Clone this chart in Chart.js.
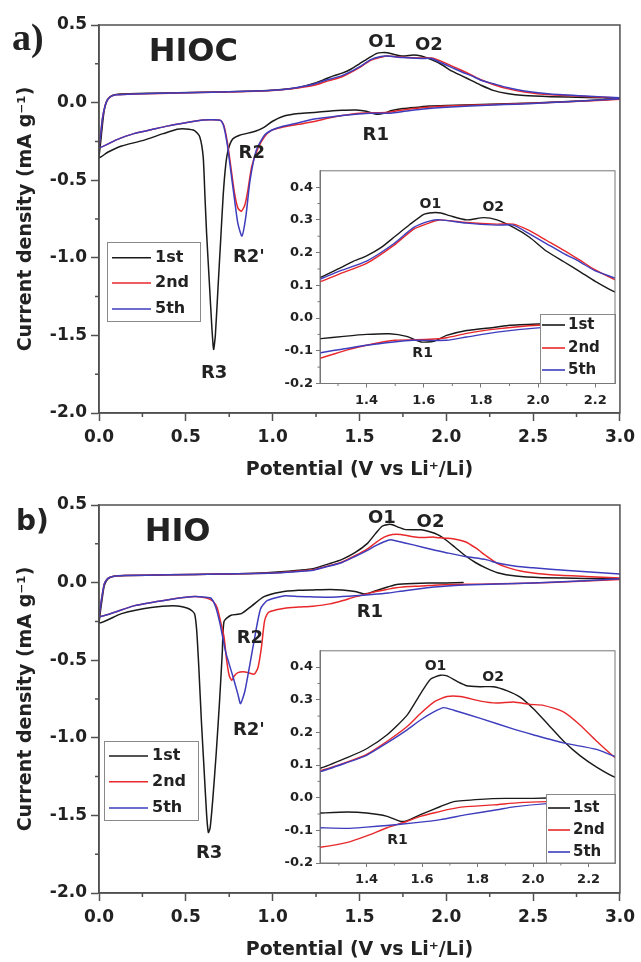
<!DOCTYPE html>
<html>
<head>
<meta charset="utf-8">
<script src="https://cdn.jsdelivr.net/npm/chart.js@4.4.0/dist/chart.umd.min.js"></script>
<style>
  body { margin: 0; background: #fff; width: 641px; height: 962px; position: relative; overflow: hidden; }
  canvas { position: absolute; }
</style>
</head>
<body>
<canvas id="mainA" width="641" height="480" style="left:0px;top:0px"></canvas>
<canvas id="insetA" width="345" height="252" style="left:280px;top:160px"></canvas>
<canvas id="mainB" width="641" height="480" style="left:0px;top:480px"></canvas>
<canvas id="insetB" width="345" height="252" style="left:280px;top:640px"></canvas>
<script>
// ---- data : [potential V, current mA/g], cathodic sweep first, then anodic ----

// HIOC
const hioc1st = [
  [3.00, 0.025], [2.80, 0.012], [2.60, 0.002], [2.40, -0.006], [2.20, -0.012], [2.00, -0.018], [1.90, -0.022],
  [1.85, -0.028], [1.75, -0.038], [1.68, -0.053], [1.635, -0.071], [1.59, -0.073], [1.54, -0.056], [1.48, -0.048],
  [1.40, -0.050], [1.32, -0.056], [1.24, -0.063], [1.15, -0.070], [1.07, -0.085], [1.00, -0.12], [0.95, -0.16],
  [0.90, -0.185], [0.81, -0.21], [0.77, -0.235], [0.745, -0.30], [0.73, -0.40], [0.715, -0.60], [0.70, -0.90],
  [0.685, -1.20], [0.67, -1.50], [0.66, -1.59], [0.65, -1.45], [0.635, -1.15], [0.62, -0.85], [0.61, -0.60],
  [0.60, -0.35], [0.58, -0.22], [0.55, -0.18], [0.50, -0.17], [0.45, -0.172], [0.37, -0.20], [0.25, -0.245],
  [0.13, -0.28], [0.05, -0.32], [0.00, -0.355],
  [0.01, -0.25], [0.02, -0.14], [0.03, -0.05], [0.045, 0.01], [0.06, 0.035], [0.08, 0.048], [0.12, 0.055],
  [0.30, 0.060], [0.60, 0.066], [0.90, 0.075], [1.05, 0.085], [1.15, 0.098], [1.24, 0.125], [1.30, 0.150],
  [1.35, 0.172], [1.40, 0.190], [1.45, 0.215], [1.50, 0.250], [1.55, 0.285], [1.60, 0.317], [1.63, 0.322],
  [1.66, 0.321], [1.69, 0.313], [1.75, 0.300], [1.81, 0.307], [1.856, 0.300], [1.914, 0.277], [1.97, 0.247],
  [2.03, 0.204], [2.09, 0.172], [2.146, 0.142], [2.20, 0.112], [2.27, 0.079], [2.35, 0.058], [2.45, 0.045],
  [2.60, 0.038], [2.80, 0.033], [3.00, 0.030]
];
const hioc2nd = [
  [3.00, 0.022], [2.80, 0.010], [2.60, 0.000], [2.40, -0.008], [2.27, -0.013], [2.00, -0.022], [1.856, -0.033],
  [1.75, -0.047], [1.68, -0.060], [1.62, -0.065], [1.50, -0.068], [1.40, -0.083], [1.33, -0.098], [1.24, -0.122],
  [1.15, -0.14], [1.05, -0.16], [0.99, -0.18], [0.953, -0.22], [0.917, -0.29], [0.88, -0.41], [0.855, -0.58],
  [0.84, -0.66], [0.82, -0.70], [0.80, -0.68], [0.78, -0.58], [0.76, -0.42], [0.74, -0.26], [0.72, -0.15],
  [0.70, -0.115], [0.65, -0.11], [0.60, -0.112], [0.50, -0.13], [0.40, -0.15], [0.30, -0.175], [0.20, -0.20],
  [0.10, -0.24], [0.00, -0.29],
  [0.01, -0.20], [0.02, -0.10], [0.035, -0.02], [0.05, 0.02], [0.07, 0.04], [0.10, 0.05], [0.20, 0.055],
  [0.50, 0.063], [0.80, 0.070], [1.00, 0.078], [1.10, 0.087], [1.18, 0.100], [1.24, 0.112], [1.30, 0.133],
  [1.40, 0.167], [1.495, 0.222], [1.565, 0.272], [1.623, 0.292], [1.658, 0.300], [1.75, 0.292], [1.856, 0.287],
  [1.914, 0.287], [1.97, 0.267], [2.03, 0.237], [2.09, 0.207], [2.146, 0.177], [2.20, 0.147], [2.27, 0.117],
  [2.35, 0.090], [2.45, 0.068], [2.60, 0.050], [2.80, 0.040], [3.00, 0.030]
];
const hioc5th = [
  [3.00, 0.025], [2.80, 0.012], [2.60, 0.000], [2.40, -0.010], [2.27, -0.016], [2.00, -0.030], [1.856, -0.043],
  [1.75, -0.058], [1.68, -0.068], [1.56, -0.068], [1.495, -0.073], [1.40, -0.083], [1.33, -0.093], [1.24, -0.106],
  [1.15, -0.13], [1.05, -0.155], [1.00, -0.175], [0.953, -0.21], [0.905, -0.31], [0.87, -0.50], [0.845, -0.74],
  [0.823, -0.86], [0.80, -0.78], [0.78, -0.62], [0.76, -0.45], [0.74, -0.28], [0.72, -0.16], [0.70, -0.115],
  [0.65, -0.11], [0.60, -0.112], [0.50, -0.13], [0.40, -0.15], [0.30, -0.175], [0.20, -0.20], [0.10, -0.24],
  [0.00, -0.29],
  [0.01, -0.20], [0.02, -0.10], [0.035, -0.02], [0.05, 0.02], [0.07, 0.04], [0.10, 0.05], [0.20, 0.056],
  [0.50, 0.064], [0.80, 0.071], [1.00, 0.080], [1.10, 0.090], [1.18, 0.105], [1.24, 0.120], [1.30, 0.142],
  [1.40, 0.174], [1.495, 0.227], [1.565, 0.277], [1.623, 0.297], [1.658, 0.300], [1.75, 0.290], [1.856, 0.284],
  [1.914, 0.284], [1.97, 0.257], [2.03, 0.227], [2.09, 0.197], [2.146, 0.172], [2.20, 0.144], [2.27, 0.122],
  [2.35, 0.097], [2.45, 0.075], [2.60, 0.055], [2.80, 0.042], [3.00, 0.032]
];

// HIO
const hio1st = [
  [2.10, 0.000], [2.00, -0.002], [1.90, -0.002], [1.81, -0.005], [1.714, -0.012], [1.666, -0.027], [1.594, -0.052],
  [1.546, -0.070], [1.52, -0.072], [1.474, -0.057], [1.40, -0.047], [1.33, -0.044], [1.232, -0.047], [1.15, -0.050],
  [1.05, -0.060], [0.95, -0.09], [0.88, -0.15], [0.82, -0.20], [0.76, -0.21], [0.72, -0.25], [0.71, -0.45],
  [0.695, -0.75], [0.675, -1.10], [0.655, -1.40], [0.64, -1.58], [0.63, -1.61], [0.62, -1.50], [0.605, -1.20],
  [0.59, -0.90], [0.575, -0.55], [0.562, -0.30], [0.55, -0.20], [0.52, -0.17], [0.45, -0.15], [0.30, -0.16],
  [0.13, -0.20], [0.00, -0.26],
  [0.01, -0.17], [0.02, -0.09], [0.03, -0.02], [0.045, 0.015], [0.06, 0.030], [0.08, 0.040], [0.15, 0.045],
  [0.40, 0.050], [0.70, 0.055], [0.90, 0.060], [1.05, 0.070], [1.15, 0.080], [1.232, 0.090], [1.33, 0.123],
  [1.40, 0.150], [1.474, 0.193], [1.546, 0.253], [1.594, 0.318], [1.63, 0.363], [1.666, 0.375], [1.69, 0.373],
  [1.726, 0.356], [1.76, 0.343], [1.81, 0.340], [1.857, 0.340], [1.905, 0.328], [1.953, 0.308], [2.00, 0.273],
  [2.05, 0.228], [2.11, 0.173], [2.17, 0.128], [2.23, 0.093], [2.295, 0.063], [2.40, 0.042], [2.55, 0.032],
  [2.80, 0.027], [3.00, 0.025]
];
const hio2nd = [
  [3.00, 0.020], [2.80, 0.010], [2.60, 0.000], [2.40, -0.006], [2.20, -0.010], [2.05, -0.012], [1.95, -0.015],
  [1.857, -0.022], [1.75, -0.028], [1.70, -0.035], [1.666, -0.042], [1.594, -0.057], [1.546, -0.072], [1.474, -0.092],
  [1.40, -0.117], [1.331, -0.137], [1.232, -0.152], [1.15, -0.158], [1.07, -0.165], [0.99, -0.185], [0.97, -0.20],
  [0.953, -0.25], [0.935, -0.42], [0.915, -0.55], [0.894, -0.59], [0.86, -0.58], [0.83, -0.575], [0.80, -0.58],
  [0.78, -0.60], [0.765, -0.63], [0.75, -0.60], [0.735, -0.50], [0.72, -0.35], [0.70, -0.25], [0.68, -0.16],
  [0.656, -0.12], [0.62, -0.10], [0.55, -0.09], [0.40, -0.11], [0.20, -0.15], [0.00, -0.22],
  [0.01, -0.14], [0.02, -0.07], [0.03, -0.01], [0.045, 0.020], [0.06, 0.033], [0.08, 0.040], [0.15, 0.045],
  [0.40, 0.050], [0.70, 0.055], [0.90, 0.058], [1.05, 0.065], [1.15, 0.074], [1.232, 0.083], [1.331, 0.110],
  [1.40, 0.133], [1.474, 0.173], [1.546, 0.218], [1.594, 0.258], [1.642, 0.293], [1.69, 0.310], [1.738, 0.310],
  [1.81, 0.296], [1.869, 0.290], [1.929, 0.293], [1.989, 0.286], [2.037, 0.283], [2.109, 0.263], [2.169, 0.223],
  [2.229, 0.173], [2.295, 0.123], [2.35, 0.098], [2.45, 0.070], [2.60, 0.050], [2.80, 0.040], [3.00, 0.030]
];
const hio5th = [
  [3.00, 0.025], [2.80, 0.012], [2.60, 0.002], [2.40, -0.006], [2.20, -0.012], [2.05, -0.018], [1.93, -0.028],
  [1.87, -0.037], [1.76, -0.052], [1.666, -0.067], [1.57, -0.077], [1.474, -0.085], [1.40, -0.090], [1.331, -0.094],
  [1.232, -0.092], [1.15, -0.090], [1.07, -0.085], [0.97, -0.115], [0.93, -0.17], [0.894, -0.37], [0.87, -0.52],
  [0.84, -0.70], [0.815, -0.78], [0.80, -0.72], [0.77, -0.60], [0.73, -0.45], [0.696, -0.26], [0.67, -0.15],
  [0.645, -0.10], [0.62, -0.095], [0.55, -0.09], [0.40, -0.11], [0.20, -0.15], [0.00, -0.22],
  [0.01, -0.14], [0.02, -0.07], [0.03, -0.01], [0.045, 0.020], [0.06, 0.033], [0.08, 0.040], [0.15, 0.045],
  [0.40, 0.050], [0.70, 0.055], [0.90, 0.058], [1.05, 0.064], [1.15, 0.072], [1.232, 0.080], [1.331, 0.108],
  [1.40, 0.130], [1.474, 0.168], [1.546, 0.208], [1.594, 0.238], [1.642, 0.263], [1.678, 0.276], [1.714, 0.268],
  [1.81, 0.243], [1.93, 0.210], [2.00, 0.193], [2.109, 0.168], [2.229, 0.148], [2.295, 0.126], [2.40, 0.105],
  [2.50, 0.095], [2.70, 0.078], [3.00, 0.055]
];

const cycleNames = ['1st', '2nd', '5th'];
const cycleColors = ['#1a1a1a', '#e8282b', '#3d3dbd'];

// peak labels [text, V, I]
const hiocPeaks = [['O1', 1.63, 0.39], ['O2', 1.90, 0.37], ['R1', 1.594, -0.21], ['R2', 0.88, -0.325], ["R2'", 0.863, -1.0], ['R3', 0.663, -1.742]];
const hiocInsetPeaks = [['O1', 1.623, 0.346], ['O2', 1.843, 0.337], ['R1', 1.596, -0.109]];
const hioPeaks = [['O1', 1.629, 0.416], ['O2', 1.909, 0.39], ['R1', 1.56, -0.19], ['R2', 0.869, -0.356], ["R2'", 0.863, -0.95], ['R3', 0.634, -1.742]];
const hioInsetPeaks = [['O1', 1.648, 0.402], ['O2', 1.856, 0.369], ['R1', 1.511, -0.132]];

// minor tick positions
const mainMinorX = [0.25, 0.75, 1.25, 1.75, 2.25, 2.75];
const mainMinorY = [0.25, -0.25, -0.75, -1.25, -1.75];
const insetMinorX = [1.3, 1.5, 1.7, 1.9, 2.1];
const insetMinorY = [0.35, 0.25, 0.15, 0.05, -0.05, -0.15];

// ---- drawing helpers ----
const SANS = "'DejaVu Sans', sans-serif";
const TXT = '#222';
const FRAME = '#505050';

// frame, minor ticks, peak labels, legend box
const cvExtras = {
  id: 'cvExtras',
  beforeDraw(chart, args, o) {
    if (!o.fillArea) return;
    const a = chart.chartArea, ctx = chart.ctx;
    ctx.save();
    ctx.fillStyle = '#fff';
    ctx.fillRect(a.left, a.top, a.right - a.left, a.bottom - a.top);
    ctx.restore();
  },
  afterDatasetsDraw(chart, args, o) {
    const ctx = chart.ctx, a = chart.chartArea;
    const xs = chart.scales.x, ys = chart.scales.y;
    ctx.save();

    // peak labels
    ctx.fillStyle = TXT;
    ctx.textAlign = 'center';
    ctx.textBaseline = 'middle';
    ctx.font = o.peakFont;
    o.peaks.forEach(p => {
      ctx.fillText(p[0], xs.getPixelForValue(p[1]), ys.getPixelForValue(p[2]));
    });

    // sample name
    if (o.sample) {
      ctx.textAlign = 'left';
      ctx.font = o.sample.font;
      ctx.fillText(o.sample.text, xs.getPixelForValue(o.sample.v), ys.getPixelForValue(o.sample.i));
    }

    // legend box
    const lg = o.legend;
    ctx.fillStyle = '#fff';
    ctx.fillRect(lg.x, lg.y, lg.w, lg.h);
    ctx.strokeStyle = '#8a8a8a';
    ctx.lineWidth = 1;
    ctx.strokeRect(lg.x + 0.5, lg.y + 0.5, lg.w, lg.h);
    ctx.textAlign = 'left';
    ctx.font = lg.font;
    chart.data.datasets.forEach((ds, i) => {
      const yy = lg.rows[i];
      ctx.strokeStyle = ds.borderColor;
      ctx.lineWidth = 1.6;
      ctx.beginPath();
      ctx.moveTo(lg.x0, yy);
      ctx.lineTo(lg.x1, yy);
      ctx.stroke();
      ctx.fillStyle = TXT;
      ctx.fillText(ds.label, lg.tx, yy);
    });

    // frame
    ctx.strokeStyle = o.frameColor;
    ctx.lineWidth = o.frameWidth;
    ctx.strokeRect(a.left, a.top, a.right - a.left, a.bottom - a.top);

    // minor ticks
    ctx.beginPath();
    o.minorX.forEach(v => {
      const px = xs.getPixelForValue(v);
      ctx.moveTo(px, a.bottom);
      ctx.lineTo(px, a.bottom + o.minorLen);
    });
    o.minorY.forEach(v => {
      const py = ys.getPixelForValue(v);
      ctx.moveTo(a.left, py);
      ctx.lineTo(a.left - o.minorLen, py);
    });
    ctx.stroke();

    // panel letter
    if (o.corner) {
      ctx.fillStyle = TXT;
      ctx.textAlign = 'left';
      ctx.textBaseline = 'alphabetic';
      ctx.font = o.corner.font;
      ctx.fillText(o.corner.text, o.corner.x, o.corner.y);
    }
    ctx.restore();
  }
};

function makeSets(series, width) {
  return series.map((s, i) => ({
    label: cycleNames[i],
    data: s.map(p => ({ x: p[0], y: p[1] })),
    showLine: true,
    borderColor: cycleColors[i],
    borderWidth: width,
    pointRadius: 0,
    tension: 0.2,
    order: 2 - i
  }));
}

function fmt(v) { return Number(v).toFixed(1); }

function mainChart(id, series, peaks, sample, corner, legend) {
  return new Chart(document.getElementById(id), {
    type: 'scatter',
    data: { datasets: makeSets(series, 1.5) },
    options: {
      responsive: false,
      animation: false,
      layout: { padding: { left: 0, right: 17, top: 25, bottom: 0 } },
      scales: {
        x: {
          type: 'linear', min: 0, max: 3,
          border: { color: FRAME, width: 1.5 },
          grid: { drawOnChartArea: false, tickLength: 8, tickColor: FRAME, tickWidth: 1.5 },
          ticks: { stepSize: 0.5, padding: 6, color: TXT, maxRotation: 0, font: { family: SANS, weight: 'bold', size: 17 }, callback: fmt },
          title: { display: true, text: 'Potential (V vs Li⁺/Li)', color: TXT, font: { family: SANS, weight: 'bold', size: 19, lineHeight: 1 }, padding: { top: 0, bottom: 0.5 } },
          afterFit: s => { s.height = 67; }
        },
        y: {
          type: 'linear', min: -2, max: 0.5,
          border: { color: FRAME, width: 1.5 },
          grid: { drawOnChartArea: false, tickLength: 8, tickColor: FRAME, tickWidth: 1.5 },
          ticks: { stepSize: 0.5, padding: 4, color: TXT, font: { family: SANS, weight: 'bold', size: 17 }, callback: fmt },
          title: { display: true, text: 'Current density (mA g⁻¹)', color: TXT, font: { family: SANS, weight: 'bold', size: 19, lineHeight: 1 }, padding: { top: 16.5, bottom: 0 } },
          afterFit: s => { s.width = 99; }
        }
      },
      plugins: {
        legend: { display: false },
        tooltip: { enabled: false },
        cvExtras: {
          fillArea: false, frameColor: FRAME, frameWidth: 1.5,
          minorX: mainMinorX, minorY: mainMinorY, minorLen: 4,
          peaks: peaks, peakFont: 'bold 18px ' + SANS,
          sample: sample, corner: corner, legend: legend
        }
      }
    },
    plugins: [cvExtras]
  });
}

function insetChart(id, series, peaks, xmin, xmax, xHeight, legend) {
  return new Chart(document.getElementById(id), {
    type: 'scatter',
    data: { datasets: makeSets(series, 1.4) },
    options: {
      responsive: false,
      animation: false,
      layout: { padding: { left: 0, right: 10, top: 7, bottom: 0 } },
      scales: {
        x: {
          type: 'linear', min: xmin, max: xmax,
          border: { color: '#777', width: 1 },
          grid: { drawOnChartArea: false, tickLength: 4, tickColor: '#777', tickWidth: 1 },
          ticks: { stepSize: 0.2, includeBounds: false, padding: 5, color: TXT, maxRotation: 0, font: { family: SANS, weight: 'bold', size: 13 }, callback: fmt },
          afterFit: s => { s.height = xHeight; }
        },
        y: {
          type: 'linear', min: -0.2, max: 0.45,
          border: { color: '#777', width: 1 },
          grid: { drawOnChartArea: false, tickLength: 4, tickColor: '#777', tickWidth: 1 },
          ticks: { stepSize: 0.1, includeBounds: false, padding: 3, color: TXT, font: { family: SANS, weight: 'bold', size: 13 }, callback: fmt },
          afterFit: s => { s.width = 40; }
        }
      },
      plugins: {
        legend: { display: false },
        tooltip: { enabled: false },
        cvExtras: {
          fillArea: true, frameColor: '#777', frameWidth: 1,
          minorX: insetMinorX, minorY: insetMinorY, minorLen: 2.5,
          peaks: peaks, peakFont: 'bold 14px ' + SANS,
          legend: legend
        }
      }
    },
    plugins: [cvExtras]
  });
}

// panel a) HIOC
mainChart('mainA', [hioc1st, hioc2nd, hioc5th], hiocPeaks,
  { text: 'HIOC', v: 0.286, i: 0.32, font: 'bold 32px ' + SANS },
  { text: 'a)', x: 12, y: 50, font: "bold 38px 'Liberation Serif', serif" },
  { x: 107, y: 242, w: 93, h: 79, rows: [257.7, 283, 309], x0: 112, x1: 151, tx: 155, font: 'bold 16px ' + SANS });

insetChart('insetA', [hioc1st, hioc2nd, hioc5th], hiocInsetPeaks, 1.237, 2.269, 28.5,
  { x: 260, y: 154, w: 75, h: 69, rows: [165, 188, 210], x0: 262, x1: 285, tx: 288, font: 'bold 15px ' + SANS });

// panel b) HIO
mainChart('mainB', [hio1st, hio2nd, hio5th], hioPeaks,
  { text: 'HIO', v: 0.263, i: 0.32, font: 'bold 32px ' + SANS },
  { text: 'b)', x: 16, y: 50, font: 'bold 28px ' + SANS },
  { x: 104, y: 261, w: 94, h: 79, rows: [276, 301.7, 328], x0: 109, x1: 148, tx: 152, font: 'bold 16px ' + SANS });

insetChart('insetB', [hio1st, hio2nd, hio5th], hioInsetPeaks, 1.232, 2.295, 29,
  { x: 266, y: 154, w: 69, h: 69, rows: [168, 190, 212], x0: 268, x1: 290, tx: 293, font: 'bold 15px ' + SANS });
</script>
</body>
</html>
